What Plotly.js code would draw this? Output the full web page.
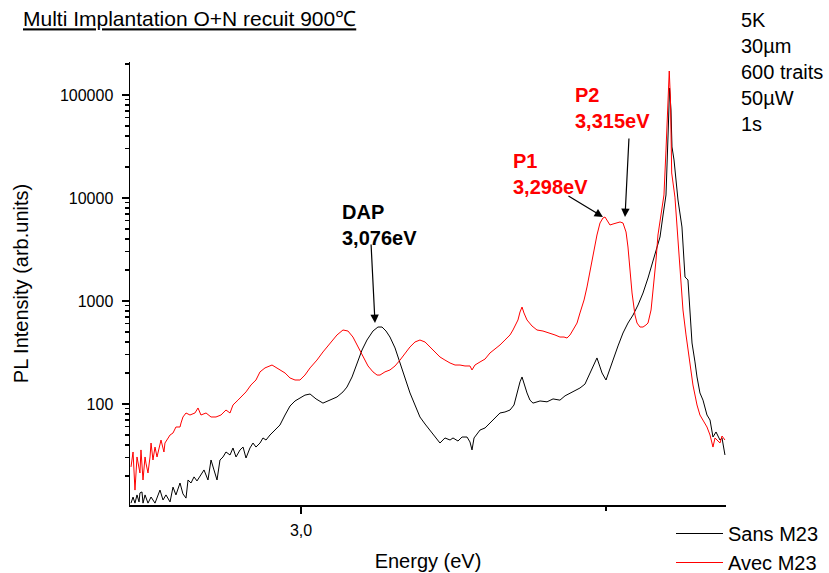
<!DOCTYPE html>
<html>
<head>
<meta charset="utf-8">
<script src="https://cdn.plot.ly/plotly-3.0.1.min.js"></script>
<style>html,body{margin:0;padding:0;background:#fff;}#chart{width:829px;height:573px;}</style>
</head>
<body>
<div id="chart"></div>
<script>
// ---- data (energy in eV, PL intensity in arb. units) ----
var energySans = [2.8328,2.8348,2.8367,2.8387,2.8407,2.8416,2.8436,2.8446,2.8466,2.8495,2.8525,2.8564,2.8613,2.8643,2.8672,2.8712,2.8741,2.8770,2.8810,2.8839,2.8869,2.8889,2.8918,2.8948,2.8977,2.9007,2.9046,2.9085,2.9115,2.9144,2.9174,2.9203,2.9233,2.9262,2.9302,2.9331,2.9361,2.9400,2.9430,2.9459,2.9498,2.9528,2.9557,2.9597,2.9626,2.9656,2.9695,2.9744,2.9793,2.9843,2.9892,2.9941,2.9990,3.0039,3.0089,3.0148,3.0216,3.0285,3.0354,3.0413,3.0452,3.0502,3.0551,3.0600,3.0649,3.0708,3.0757,3.0797,3.0836,3.0875,3.0925,3.0974,3.1023,3.1072,3.1121,3.1170,3.1220,3.1269,3.1318,3.1367,3.1416,3.1466,3.1495,3.1544,3.1584,3.1633,3.1662,3.1682,3.1702,3.1761,3.1810,3.1859,3.1888,3.1928,3.1957,3.2006,3.2056,3.2095,3.2125,3.2154,3.2174,3.2193,3.2223,3.2252,3.2282,3.2351,3.2420,3.2479,3.2547,3.2597,3.2646,3.2695,3.2744,3.2793,3.2843,3.2882,3.2911,3.2941,3.2961,3.3000,3.3029,3.3069,3.3118,3.3167,3.3216,3.3266,3.3315,3.3364,3.3413,3.3462,3.3501,3.3531,3.3561,3.3590,3.3613,3.3625,3.3639,3.3649,3.3669,3.3708,3.3747,3.3777,3.3806,3.3826,3.3846,3.3875,3.3895,3.3924,3.3954,3.3993,3.4023,3.4052,3.4082,3.4121,3.4141,3.4170];
var intensitySans = [10.9,12.5,10.9,13.1,11.2,13.7,14.0,10.9,13.1,10.9,12.5,10.9,14.6,11.7,13.1,11.2,15.6,13.1,17.1,13.4,12.2,18.3,17.1,19.6,17.9,20.0,22.9,18.3,28.6,22.9,18.3,28.6,30.6,34.2,32.0,37.4,30.6,35.8,38.2,29.9,37.4,41.8,38.2,41.8,46.8,44.7,50.0,55.9,62.5,78.2,95.6,107,114,122,125,112,102,109,117,131,146,183,250,334,418,511,559,559,511,447,350,250,179,128,97.8,74.8,63.9,55.9,48.9,41.8,46.8,44.7,46.8,43.7,47.8,47.8,42.8,35.8,46.8,55.9,58.5,65.4,69.9,74.8,81.8,83.6,87.4,97.8,128,164,183,156,128,109,102,107,105,112,109,120,128,134,143,156,200,245,280,229,200,171,209,267,366,489,611,731,915,1196,1672,2500,3344,4181,6840,10700,48900,116900,71500,31300,23400,9560,5230,1710,1600,818,391,256,183,128,109,78.2,69.9,47.8,53.5,44.7,46.8,32.0];

var energyAvec = [2.8328,2.8348,2.8367,2.8387,2.8416,2.8426,2.8446,2.8466,2.8475,2.8495,2.8515,2.8525,2.8544,2.8564,2.8584,2.8613,2.8623,2.8652,2.8662,2.8712,2.8741,2.8770,2.8810,2.8820,2.8839,2.8869,2.8908,2.8957,2.8987,2.9016,2.9066,2.9115,2.9164,2.9213,2.9262,2.9302,2.9331,2.9380,2.9410,2.9459,2.9508,2.9557,2.9597,2.9646,2.9715,2.9793,2.9843,2.9892,2.9941,2.9990,3.0039,3.0089,3.0157,3.0216,3.0285,3.0354,3.0413,3.0462,3.0511,3.0561,3.0610,3.0659,3.0708,3.0748,3.0777,3.0826,3.0875,3.0925,3.0974,3.1023,3.1072,3.1121,3.1170,3.1220,3.1269,3.1318,3.1367,3.1416,3.1466,3.1515,3.1564,3.1613,3.1662,3.1682,3.1711,3.1761,3.1810,3.1859,3.1908,3.1957,3.2006,3.2056,3.2085,3.2115,3.2134,3.2154,3.2174,3.2193,3.2223,3.2272,3.2321,3.2380,3.2449,3.2498,3.2547,3.2587,3.2616,3.2646,3.2675,3.2715,3.2744,3.2784,3.2813,3.2843,3.2872,3.2911,3.2941,3.2970,3.2990,3.3010,3.3039,3.3069,3.3098,3.3138,3.3167,3.3197,3.3216,3.3236,3.3256,3.3285,3.3305,3.3334,3.3364,3.3393,3.3413,3.3443,3.3462,3.3492,3.3511,3.3541,3.3570,3.3590,3.3610,3.3622,3.3634,3.3646,3.3678,3.3698,3.3708,3.3728,3.3757,3.3787,3.3826,3.3855,3.3895,3.3924,3.3964,3.3993,3.4023,3.4052,3.4072,3.4092,3.4121,3.4141,3.4170];
var intensityAvec = [24.5,34.2,14.6,30.6,21.4,35.8,18.3,30.6,26.7,21.4,30.6,41.8,28.6,38.2,30.6,40.0,44.7,34.2,41.8,50.0,52.3,59.8,59.8,65.4,74.8,81.8,78.2,81.8,91.5,78.2,81.8,74.8,74.8,78.2,87.4,81.8,97.8,109,117,131,153,171,205,224,239,214,200,179,171,171,191,224,267,320,391,468,523,511,447,358,286,234,205,191,191,205,214,234,267,313,358,400,418,400,358,320,286,267,250,239,239,234,234,214,239,256,273,313,342,374,418,468,523,598,654,782,874,765,654,572,523,511,489,468,447,447,437,468,523,611,765,1023,1368,2000,2924,4373,5720,6393,6540,6114,5468,5593,5720,5850,5720,4677,3344,2000,1196,731,611,559,559,585,611,818,1196,2500,4373,6840,10700,29200,100000,171000,89400,17500,10200,5468,3658,1788,818,468,239,153,97.8,78.2,66.9,59.8,50.0,38.2,46.8,44.7,41.8,48.9,44.7];

var seriesNames = ['Sans M23', 'Avec M23'];
var xTickVals = [3.0];
var xTickText = ['3,0'];
var xMinorVals = [3.3];
var yTickVals = [100, 1000, 10000, 100000];
var yTickText = ['100', '1000', '10000', '100000'];
var peakLabels = ['DAP<br>3,076eV', 'P1<br>3,298eV', 'P2<br>3,315eV'];
var peakEnergies = [3.0728, 3.2970, 3.3187];
var peakIntensities = [611, 6540, 6540];
var conditionsText = '5K<br>30µm<br>600 traits<br>50µW<br>1s';
var titleText = 'Multi Implantation O+N recuit 900℃';

// ---- minor log ticks ----
var yMinor = [];
for (var d = 10; d <= 100000; d *= 10) {
  for (var k = 2; k <= 9; k++) yMinor.push(k * d);
}

var FONT = 'Arial, "Liberation Sans", sans-serif';

var traces = [
  {x: energySans, y: intensitySans, type: 'scatter', mode: 'lines', name: seriesNames[0],
   line: {color: '#000000', width: 1}},
  {x: energyAvec, y: intensityAvec, type: 'scatter', mode: 'lines', name: seriesNames[1],
   line: {color: '#ff0000', width: 1}}
];

var W = 829, H = 573, ML = 130, MR = 103, MT = 62, MB = 68;
var PW = W - ML - MR, PH = H - MT - MB;
function px2paperX(p) { return (p - ML) / PW; }
function px2paperY(p) { return (H - MB - p) / PH; }

var annotations = [
  {text: '<b>' + peakLabels[0] + '</b>', xref: 'paper', yref: 'paper', x: px2paperX(340), y: px2paperY(199),
   xanchor: 'left', yanchor: 'top', align: 'left', showarrow: false, font: {size: 20, color: '#000000', family: FONT}},
  {text: '<b>' + peakLabels[1] + '</b>', xref: 'paper', yref: 'paper', x: px2paperX(511), y: px2paperY(148),
   xanchor: 'left', yanchor: 'top', align: 'left', showarrow: false, font: {size: 20, color: '#ff0000', family: FONT}},
  {text: '<b>' + peakLabels[2] + '</b>', xref: 'paper', yref: 'paper', x: px2paperX(573), y: px2paperY(82),
   xanchor: 'left', yanchor: 'top', align: 'left', showarrow: false, font: {size: 20, color: '#ff0000', family: FONT}},
  {text: conditionsText, xref: 'paper', yref: 'paper', x: px2paperX(739), y: px2paperY(7),
   xanchor: 'left', yanchor: 'top', align: 'left', showarrow: false, font: {size: 20, color: '#000000', family: FONT}},
  // arrows
  {text: '', xref: 'x', yref: 'y', x: peakEnergies[0], y: Math.log10(peakIntensities[0]), ax: -4, ay: -80,
   showarrow: true, arrowhead: 2, arrowsize: 1.4, arrowwidth: 1.2, arrowcolor: '#000000', standoff: 0},
  {text: '', xref: 'x', yref: 'y', x: peakEnergies[1], y: Math.log10(peakIntensities[1]), ax: -36, ay: -22,
   showarrow: true, arrowhead: 2, arrowsize: 1.4, arrowwidth: 1.2, arrowcolor: '#000000', standoff: 0},
  {text: '', xref: 'x', yref: 'y', x: peakEnergies[2], y: Math.log10(peakIntensities[2]), ax: 4, ay: -80,
   showarrow: true, arrowhead: 2, arrowsize: 1.4, arrowwidth: 1.2, arrowcolor: '#000000', standoff: 0}
];

var layout = {
  width: W, height: H,
  margin: {l: ML, r: MR, t: MT, b: MB, pad: 0, autoexpand: false},
  paper_bgcolor: '#ffffff', plot_bgcolor: '#ffffff',
  font: {family: FONT, color: '#000000', size: 20},
  title: {text: titleText, font: {size: 21, family: FONT, color: '#000000', lineposition: 'under'},
          xref: 'container', yref: 'container', x: 23 / W, xanchor: 'left', y: 1 - 19 / H, yanchor: 'middle',
          automargin: false},
  showlegend: true,
  legend: {x: px2paperX(671), y: px2paperY(514), xanchor: 'left', yanchor: 'top', bgcolor: 'rgba(0,0,0,0)',
           font: {size: 20, family: FONT}, itemwidth: 47, tracegroupgap: 0},
  xaxis: {range: [2.83181, 3.41802], showline: true, linecolor: '#000000', linewidth: 1.5,
          ticks: 'outside', ticklen: 7, tickwidth: 1.5, tickcolor: '#000000',
          tickmode: 'array', tickvals: xTickVals, ticktext: xTickText, tickfont: {size: 16},
          ticklabelstandoff: 3,
          minor: {tickmode: 'array', tickvals: xMinorVals, ticks: 'outside', ticklen: 4, tickwidth: 1.5, tickcolor: '#000000', showgrid: false},
          showgrid: false, zeroline: false, automargin: false,
          title: {text: 'Energy (eV)', font: {size: 20}, standoff: 16}},
  yaxis: {type: 'log', range: [1.0194, 5.3204], showline: true, linecolor: '#000000', linewidth: 1.5,
          ticks: 'outside', ticklen: 7, tickwidth: 1.5, tickcolor: '#000000',
          tickmode: 'array', tickvals: yTickVals, ticktext: yTickText, tickfont: {size: 16},
          ticklabelstandoff: 5,
          minor: {tickmode: 'array', tickvals: yMinor, ticks: 'outside', ticklen: 4, tickwidth: 1.2, tickcolor: '#000000', showgrid: false},
          showgrid: false, zeroline: false, automargin: false,
          title: {text: 'PL Intensity (arb.units)', font: {size: 20}, standoff: 26}},
  annotations: annotations
};

Plotly.newPlot('chart', traces, layout, {displayModeBar: false, staticPlot: true});
</script>
</body>
</html>
